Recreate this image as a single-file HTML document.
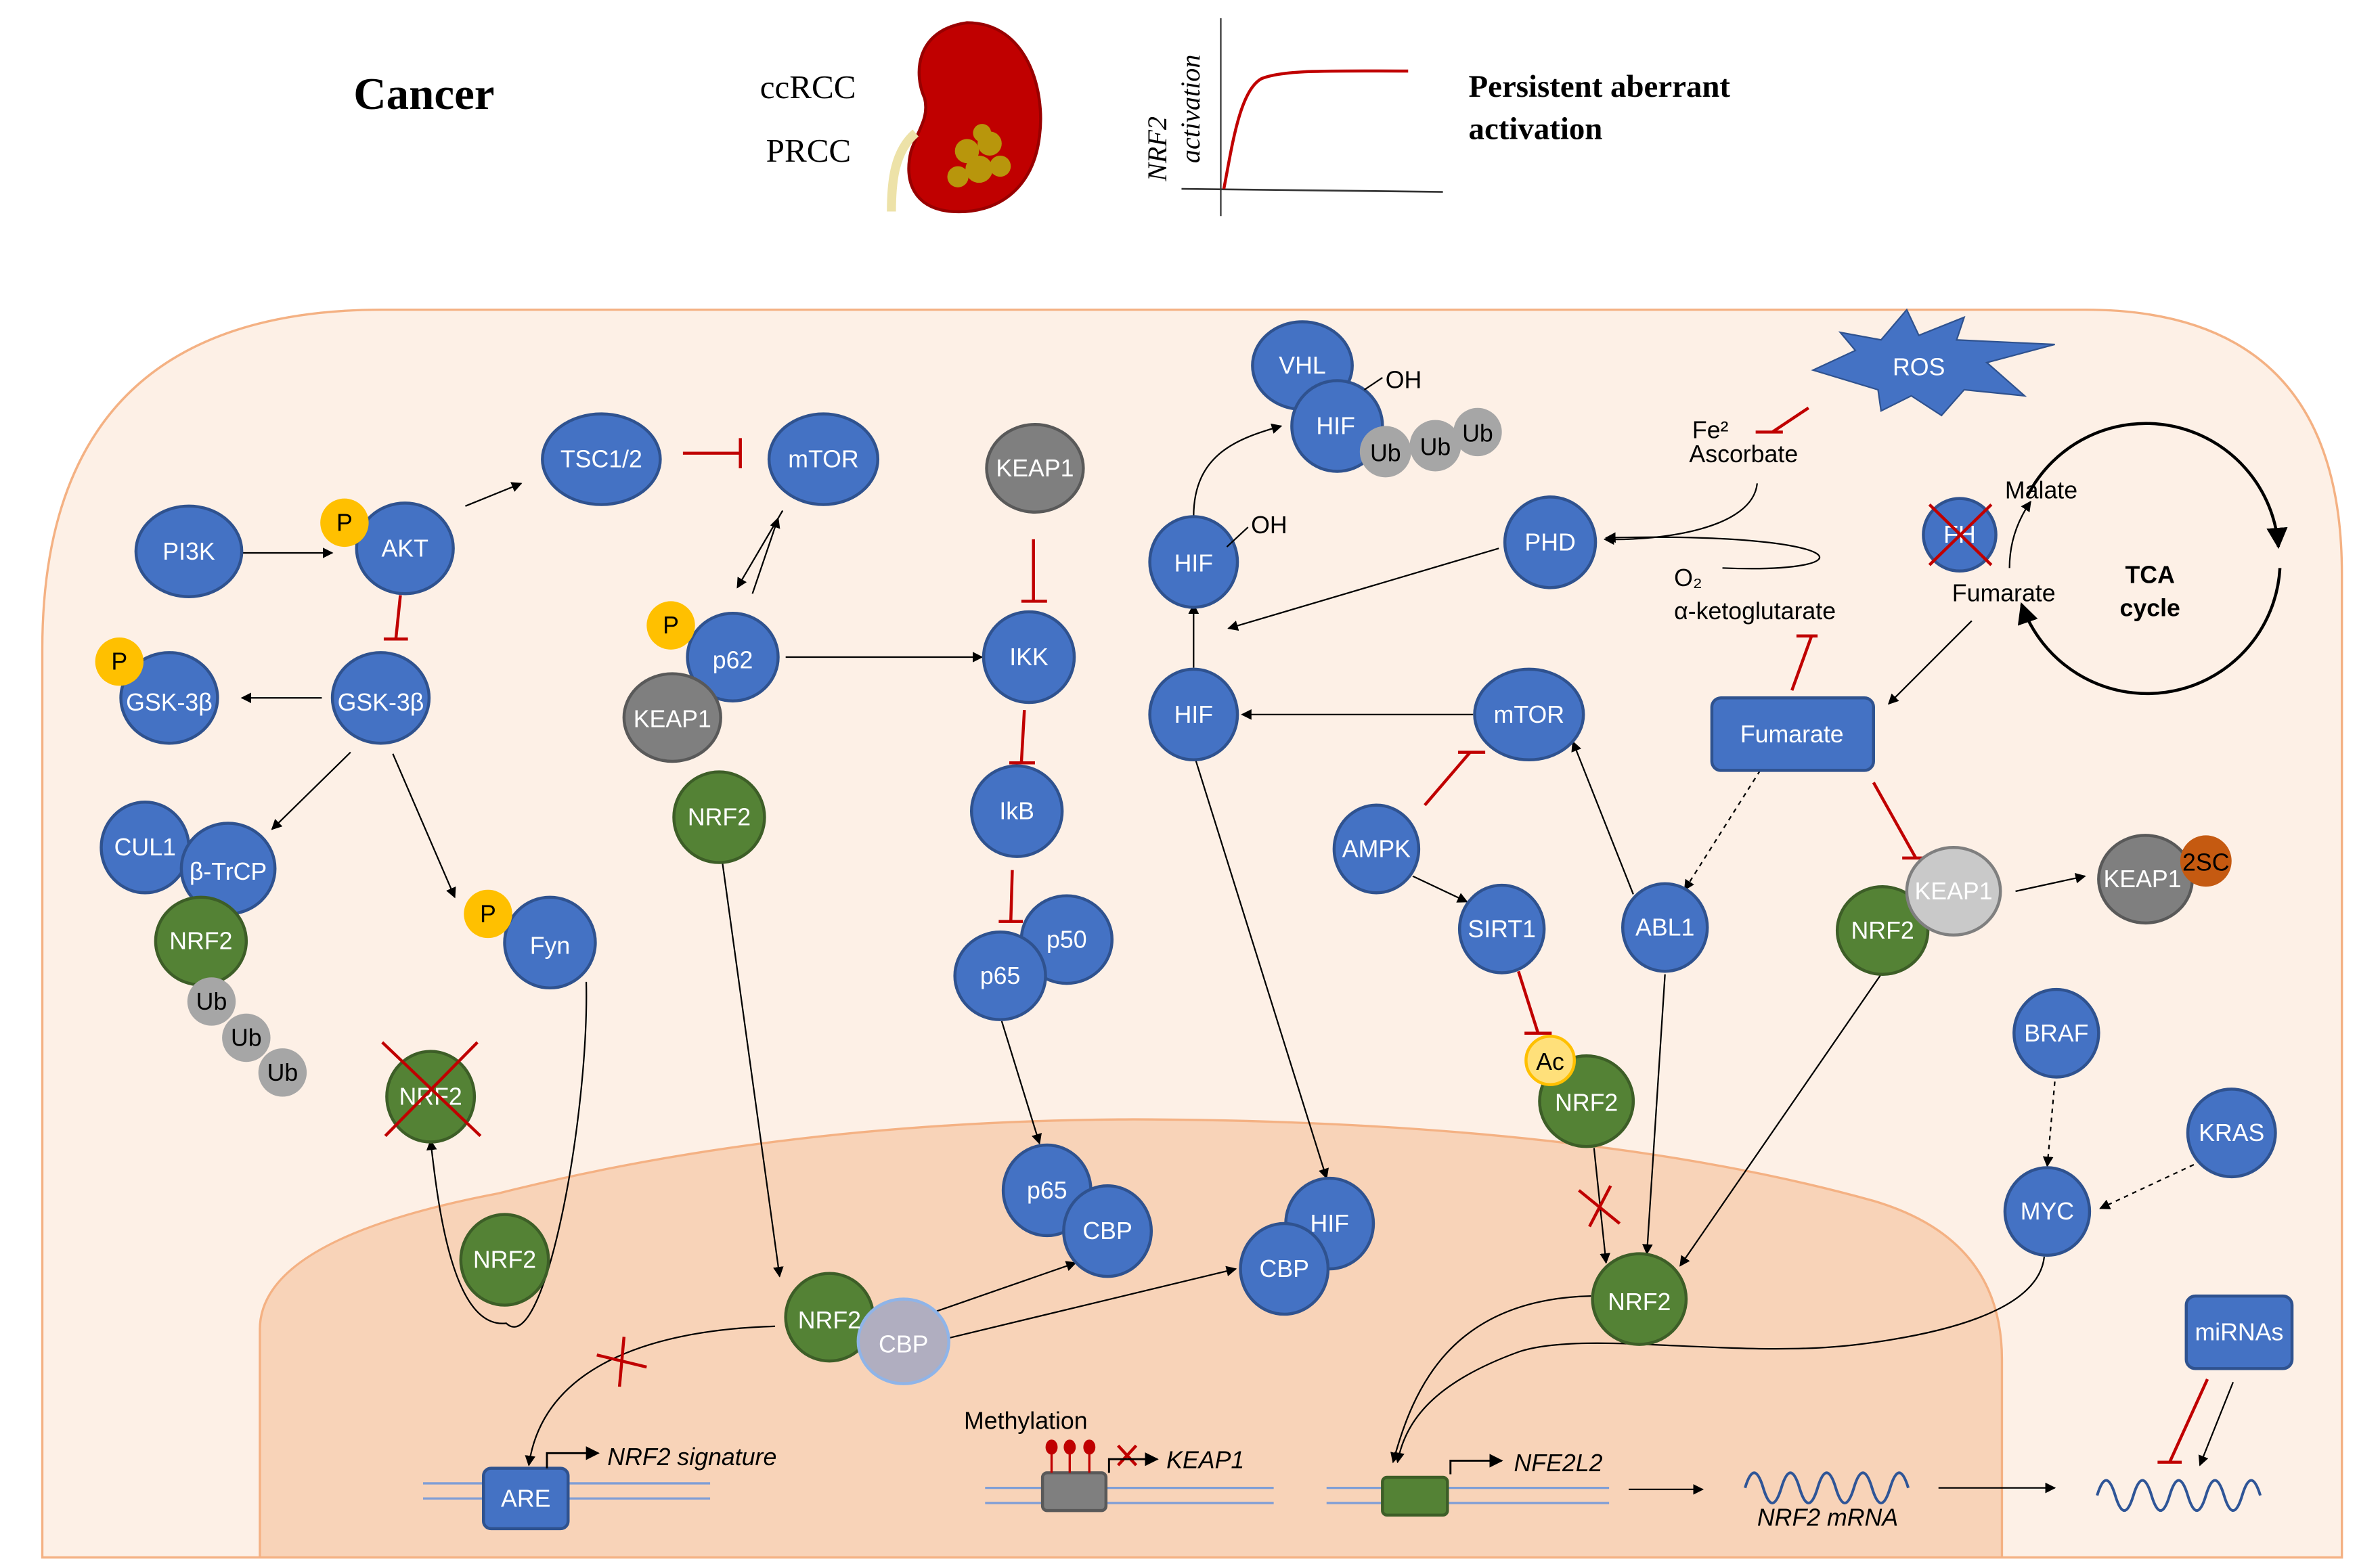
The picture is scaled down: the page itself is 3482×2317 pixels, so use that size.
<!DOCTYPE html>
<html><head><meta charset="utf-8"><style>
html,body{margin:0;padding:0;background:#fff;}
svg{display:block;}
text{font-family:"Liberation Sans","DejaVu Sans",sans-serif;}
.w{fill:#fff;font-size:16px;text-anchor:middle;dominant-baseline:central;}
.k{fill:#000;font-size:16px;}
</style></head><body>
<svg width="3482" height="2317" viewBox="0 0 1560 1038" xmlns="http://www.w3.org/2000/svg">
<defs>
<marker id="a" viewBox="0 0 10 10" refX="9" refY="5" markerWidth="7" markerHeight="7" orient="auto-start-reverse"><path d="M0,0L10,5L0,10z" fill="#000"/></marker>
</defs>
<!-- header -->
<text x="234" y="72" style="font-family:'Liberation Serif',serif;font-weight:bold;font-size:30px">Cancer</text>
<text x="503" y="65" style="font-family:'Liberation Serif',serif;font-size:22px">ccRCC</text>
<text x="507" y="107" style="font-family:'Liberation Serif',serif;font-size:22px">PRCC</text>
<path d="M640,15 C680,15 692,60 688,90 C684,125 660,142 630,140 C605,138 598,120 603,100 C608,85 615,78 612,65 C605,50 605,20 640,15 Z" fill="#c00000" stroke="#900" stroke-width="2"/>
<path d="M606,88 C592,100 590,120 590,140" stroke="#ede2a8" stroke-width="6" fill="none"/>
<g fill="#b8960c"><circle cx="640" cy="100" r="8"/><circle cx="655" cy="95" r="8"/><circle cx="648" cy="112" r="9"/><circle cx="634" cy="117" r="7"/><circle cx="662" cy="110" r="7"/><circle cx="650" cy="88" r="6"/></g>
<line x1="808" y1="12" x2="808" y2="143" stroke="#333" stroke-width="1"/>
<line x1="782" y1="125" x2="955" y2="127" stroke="#333" stroke-width="1.2"/>
<path d="M810,125 C815,100 820,60 835,52 C850,46 880,47 932,47" stroke="#c00000" stroke-width="2" fill="none"/>
<text transform="translate(772,120) rotate(-90)" style="font-family:'Liberation Serif',serif;font-style:italic;font-size:18px">NRF2</text>
<text transform="translate(794,108) rotate(-90)" style="font-family:'Liberation Serif',serif;font-style:italic;font-size:18px">activation</text>
<text x="972" y="64" style="font-family:'Liberation Serif',serif;font-weight:bold;font-size:21px">Persistent aberrant</text>
<text x="972" y="92" style="font-family:'Liberation Serif',serif;font-weight:bold;font-size:21px">activation</text>
<!-- cell -->
<path d="M28,1031 L28,430 Q28,205 253,205 L1380,205 Q1550,205 1550,380 L1550,1031 Z" fill="#fdf0e6" stroke="#f4b183" stroke-width="1.5"/>
<path d="M172,1031 L172,880 Q172,820 330,790 Q520,742 750,741 Q1050,742 1240,795 Q1325,820 1325,900 L1325,1031 Z" fill="#f8d3b8" stroke="#f4b183" stroke-width="1.5"/>
<!-- DNA lines -->
<g stroke="#7f9ed6" stroke-width="1.5">
<line x1="280" y1="982" x2="470" y2="982"/><line x1="280" y1="992" x2="470" y2="992"/>
<line x1="652" y1="985" x2="843" y2="985"/><line x1="652" y1="995" x2="843" y2="995"/>
<line x1="878" y1="985" x2="1065" y2="985"/><line x1="878" y1="995" x2="1065" y2="995"/>
</g>
<!-- connectors -->
<g stroke="#000" stroke-width="1" fill="none" marker-end="url(#a)">
<line x1="158" y1="366" x2="220" y2="366"/>
<line x1="308" y1="335" x2="345" y2="320"/>
<line x1="213" y1="462" x2="160" y2="462"/>
<line x1="232" y1="498" x2="180" y2="549"/>
<line x1="260" y1="499" x2="301" y2="594"/>
<line x1="518" y1="338" x2="488" y2="389"/>
<line x1="498" y1="393" x2="515" y2="343"/>
<line x1="520" y1="435" x2="650" y2="435"/>
<path d="M388,650 C390,740 360,900 335,876 C300,880 290,800 285,755"/>
<line x1="478" y1="570" x2="516" y2="845"/>
<line x1="663" y1="676" x2="688" y2="757"/>
<line x1="791" y1="502" x2="878" y2="780"/>
<line x1="790" y1="442" x2="790" y2="400"/>
<path d="M790,342 C790,300 820,290 848,282"/>
<line x1="975" y1="473" x2="822" y2="473"/>
<line x1="992" y1="363" x2="813" y2="416"/>
<path d="M1163,320 C1160,350 1100,358 1062,357"/>
<path d="M1140,376 C1240,380 1230,352 1063,356"/>
<line x1="935" y1="580" x2="971" y2="597"/>
<line x1="1081" y1="592" x2="1041" y2="491"/>
<line x1="1305" y1="411" x2="1250" y2="466"/>
<line x1="1334" y1="590" x2="1380" y2="580"/>
<line x1="1102" y1="645" x2="1090" y2="830"/>
<line x1="1055" y1="760" x2="1063" y2="836"/>
<line x1="1245" y1="645" x2="1112" y2="838"/>
<line x1="1452" y1="771" x2="1390" y2="800" stroke-dasharray="3,3"/>
<line x1="1360" y1="716" x2="1355" y2="772" stroke-dasharray="3,3"/>
<line x1="1165" y1="510" x2="1115" y2="589" stroke-dasharray="3,3"/>
<path d="M1353,832 C1350,860 1310,880 1230,890 C1150,900 1050,880 1005,895 C950,915 930,940 925,968"/>
<path d="M1053,858 C960,860 935,920 922,968"/>
<path d="M513,878 C440,880 360,900 350,970"/>
<line x1="620" y1="868" x2="712" y2="836"/>
<line x1="627" y1="886" x2="818" y2="840"/>
<line x1="1078" y1="986" x2="1127" y2="986"/>
<line x1="1283" y1="985" x2="1360" y2="985"/>
<line x1="1478" y1="915" x2="1456" y2="970"/>
<path d="M1330,376 C1330,360 1335,345 1344,332"/>
</g>
<!-- TCA circle -->
<g stroke="#000" stroke-width="2" fill="none" marker-end="url(#a)">
<path d="M1342,328 A88,88 0 0 1 1508,362"/>
<path d="M1509,376 A88,88 0 0 1 1338,400"/>
</g>
<!-- inhibitions -->
<g stroke="#c00000" stroke-width="2" fill="none">
<path d="M452,300 L490,300 M490,290 L490,310"/>
<path d="M265,394 L262,423 M254,423 L270,423"/>
<path d="M684,357 L684,398 M676,398 L693,398"/>
<path d="M678,470 L676,505 M668,505 L685,505"/>
<path d="M670,576 L669,610 M661,610 L677,610"/>
<path d="M943,533 L973,498 M965,498 L983,498"/>
<path d="M1186,457 L1199,421 M1189,421 L1203,421"/>
<path d="M1240,518 L1268,568 M1259,568 L1273,568"/>
<path d="M1005,643 L1018,684 M1009,684 L1027,684"/>
<path d="M1197,270 L1173,286 M1162,286 L1180,286"/>
<path d="M1461,913 L1436,968 M1428,968 L1444,968"/>
</g>
<!-- ROS star -->
<path d="M1200,245 L1228,232 L1218,220 L1245,225 L1262,205 L1270,222 L1300,210 L1295,225 L1360,228 L1315,240 L1340,262 L1300,258 L1285,275 L1265,262 L1245,272 L1243,258 L1200,245 Z" fill="#4472c4" stroke="#2f528f"/>
<text class="w" x="1270" y="243">ROS</text>
<!-- nodes -->
<g stroke-width="2">
<g fill="#4472c4" stroke="#2f528f">
<ellipse cx="125" cy="365" rx="35" ry="30"/><ellipse cx="268" cy="363" rx="32" ry="30"/>
<ellipse cx="398" cy="304" rx="39" ry="30"/><ellipse cx="545" cy="304" rx="36" ry="30"/>
<ellipse cx="485" cy="435" rx="30" ry="29"/><ellipse cx="681" cy="435" rx="30" ry="30"/>
<ellipse cx="673" cy="537" rx="30" ry="30"/><ellipse cx="706" cy="622" rx="30" ry="29"/>
<ellipse cx="662" cy="646" rx="30" ry="29"/>
<ellipse cx="112" cy="462" rx="32" ry="30"/><ellipse cx="252" cy="462" rx="32" ry="30"/>
<ellipse cx="96" cy="561" rx="29" ry="30"/><ellipse cx="151" cy="575" rx="31" ry="30"/>
<ellipse cx="364" cy="624" rx="30" ry="30"/>
<ellipse cx="693" cy="788" rx="29" ry="30"/><ellipse cx="733" cy="815" rx="29" ry="30"/>
<ellipse cx="880" cy="810" rx="29" ry="30"/><ellipse cx="850" cy="840" rx="29" ry="30"/>
<ellipse cx="862" cy="242" rx="33" ry="29"/><ellipse cx="885" cy="282" rx="30" ry="30"/>
<ellipse cx="790" cy="372" rx="29" ry="30"/><ellipse cx="790" cy="473" rx="29" ry="30"/>
<ellipse cx="1012" cy="473" rx="36" ry="30"/><ellipse cx="1026" cy="359" rx="30" ry="30"/>
<ellipse cx="911" cy="562" rx="28" ry="29"/><ellipse cx="994" cy="615" rx="28" ry="29"/>
<ellipse cx="1102" cy="614" rx="28" ry="29"/><ellipse cx="1297" cy="354" rx="24" ry="24"/>
<ellipse cx="1361" cy="684" rx="28" ry="29"/><ellipse cx="1477" cy="750" rx="29" ry="29"/>
<ellipse cx="1355" cy="802" rx="28" ry="29"/>
<rect x="1133" y="462" width="107" height="48" rx="6"/>
<rect x="1447" y="858" width="70" height="48" rx="6"/>
<rect x="320" y="972" width="56" height="40" rx="5"/>
</g>
<g fill="#548235" stroke="#3d5e27">
<ellipse cx="133" cy="623" rx="30" ry="29"/><ellipse cx="285" cy="726" rx="29" ry="30"/>
<ellipse cx="334" cy="834" rx="29" ry="30"/><ellipse cx="476" cy="541" rx="30" ry="30"/>
<ellipse cx="549" cy="872" rx="29" ry="29"/><ellipse cx="1050" cy="729" rx="31" ry="30"/>
<ellipse cx="1085" cy="860" rx="31" ry="30"/><ellipse cx="1246" cy="616" rx="30" ry="29"/>
<rect x="915" y="978" width="43" height="25" rx="3"/>
</g>
<ellipse cx="598" cy="888" rx="30" ry="28" fill="#b0aec0" stroke="#8fb4e8"/>
<g fill="#7f7f7f" stroke="#595959">
<ellipse cx="685" cy="310" rx="32" ry="29"/><ellipse cx="445" cy="475" rx="32" ry="29"/>
<ellipse cx="1420" cy="582" rx="31" ry="29"/>
<rect x="690" y="975" width="42" height="25" rx="3"/>
</g>
<ellipse cx="1293" cy="590" rx="31" ry="29" fill="#c9c9c9" stroke="#7f7f7f"/>
<circle cx="1460" cy="570" r="17" fill="#c55a11" stroke="none"/>
<g fill="#a6a6a6" stroke="none">
<circle cx="140" cy="663" r="16"/><circle cx="163" cy="687" r="16"/><circle cx="187" cy="710" r="16"/>
<circle cx="917" cy="299" r="17"/><circle cx="950" cy="295" r="17"/><circle cx="978" cy="286" r="16"/>
</g>
<g fill="#ffc000" stroke="none">
<circle cx="228" cy="346" r="16"/><circle cx="444" cy="414" r="16"/><circle cx="79" cy="438" r="16"/><circle cx="323" cy="605" r="16"/>
</g>
<circle cx="1026" cy="702" r="16" fill="#ffe07a" stroke="#ffc000"/>
</g>
<!-- labels -->
<g class="w">
<text x="125" y="365">PI3K</text><text x="268" y="363">AKT</text><text x="398" y="304">TSC1/2</text><text x="545" y="304">mTOR</text>
<text x="685" y="310">KEAP1</text><text x="485" y="437">p62</text><text x="445" y="476">KEAP1</text><text x="681" y="435">IKK</text>
<text x="673" y="537">IkB</text><text x="706" y="622">p50</text><text x="662" y="646">p65</text>
<text x="112" y="465">GSK-3β</text><text x="252" y="465">GSK-3β</text><text x="96" y="561">CUL1</text><text x="151" y="577">β-TrCP</text>
<text x="133" y="623">NRF2</text><text x="364" y="626">Fyn</text><text x="285" y="726">NRF2</text><text x="334" y="834">NRF2</text>
<text x="476" y="541">NRF2</text><text x="549" y="874">NRF2</text><text x="598" y="890">CBP</text>
<text x="693" y="788">p65</text><text x="733" y="815">CBP</text><text x="880" y="810">HIF</text><text x="850" y="840">CBP</text>
<text x="862" y="242">VHL</text><text x="884" y="282">HIF</text><text x="790" y="373">HIF</text><text x="790" y="473">HIF</text>
<text x="1012" y="473">mTOR</text><text x="1026" y="359">PHD</text><text x="911" y="562">AMPK</text><text x="994" y="615">SIRT1</text>
<text x="1102" y="614">ABL1</text><text x="1297" y="354">FH</text><text x="1186" y="486">Fumarate</text>
<text x="1293" y="590">KEAP1</text><text x="1246" y="616">NRF2</text><text x="1418" y="582">KEAP1</text>
<text x="1050" y="730">NRF2</text><text x="1085" y="862">NRF2</text><text x="1361" y="684">BRAF</text><text x="1477" y="750">KRAS</text>
<text x="1355" y="802">MYC</text><text x="1482" y="882">miRNAs</text><text x="348" y="992">ARE</text>
</g>
<g class="k" style="text-anchor:middle;dominant-baseline:central">
<text x="228" y="346">P</text><text x="444" y="414">P</text><text x="79" y="438">P</text><text x="323" y="605">P</text>
<text x="140" y="663">Ub</text><text x="163" y="687">Ub</text><text x="187" y="710">Ub</text>
<text x="917" y="300">Ub</text><text x="950" y="296">Ub</text><text x="978" y="287">Ub</text>
<text x="1026" y="703">Ac</text><text x="1460" y="571">2SC</text>
</g>
<text class="k" x="917" y="257">OH</text><text class="k" x="828" y="353">OH</text>
<path d="M903,258 L915,250 M812,362 L826,349" stroke="#000"/>
<text class="k" x="1120" y="290">Fe²</text><text class="k" x="1118" y="306">Ascorbate</text>
<text class="k" x="1108" y="388">O₂</text><text class="k" x="1108" y="410">α-ketoglutarate</text>
<text class="k" x="1327" y="330">Malate</text><text class="k" x="1292" y="398">Fumarate</text>
<text class="k" x="1423" y="386" style="font-weight:bold;text-anchor:middle">TCA</text>
<text class="k" x="1423" y="408" style="font-weight:bold;text-anchor:middle">cycle</text>
<!-- crosses -->
<g stroke="#c00000" stroke-width="2">
<path d="M253,690 L318,752 M316,690 L255,752"/>
<path d="M1277,334 L1318,374 M1318,334 L1277,374"/>
<path d="M1045,788 L1072,810 M1066,785 L1052,812"/>
<path d="M395,897 L428,905 M413,885 L410,918"/>
<path d="M740,957 L752,970 M752,957 L740,970"/>
</g>
<!-- DNA arrows -->
<g stroke="#000" stroke-width="1.3" fill="none" marker-end="url(#a)">
<path d="M362,972 L362,962 L396,962"/><path d="M734,975 L734,966 L766,966"/><path d="M960,976 L960,967 L994,967"/>
</g>
<g stroke="#c00000" stroke-width="1.5"><line x1="696" y1="960" x2="696" y2="975"/><line x1="708" y1="960" x2="708" y2="975"/><line x1="721" y1="960" x2="721" y2="975"/></g>
<g fill="#c00000"><ellipse cx="696" cy="958" rx="4" ry="5"/><ellipse cx="708" cy="958" rx="4" ry="5"/><ellipse cx="721" cy="958" rx="4" ry="5"/></g>
<g style="font-style:italic" class="k">
<text x="402" y="970">NRF2 signature</text><text x="772" y="972">KEAP1</text><text x="1002" y="974">NFE2L2</text>
<text x="1163" y="1010">NRF2 mRNA</text>
</g>
<text class="k" x="638" y="946">Methylation</text>
<path d="M1155,985 Q1161,965 1167,985 T1179,985 T1191,985 T1203,985 T1215,985 T1227,985 T1239,985 T1251,985 T1263,985" stroke="#2f5597" stroke-width="1.8" fill="none"/>
<path d="M1388,990 Q1394,970 1400,990 T1412,990 T1424,990 T1436,990 T1448,990 T1460,990 T1472,990 T1484,990 T1496,990" stroke="#2f5597" stroke-width="1.8" fill="none"/>
</svg>
</body></html>
